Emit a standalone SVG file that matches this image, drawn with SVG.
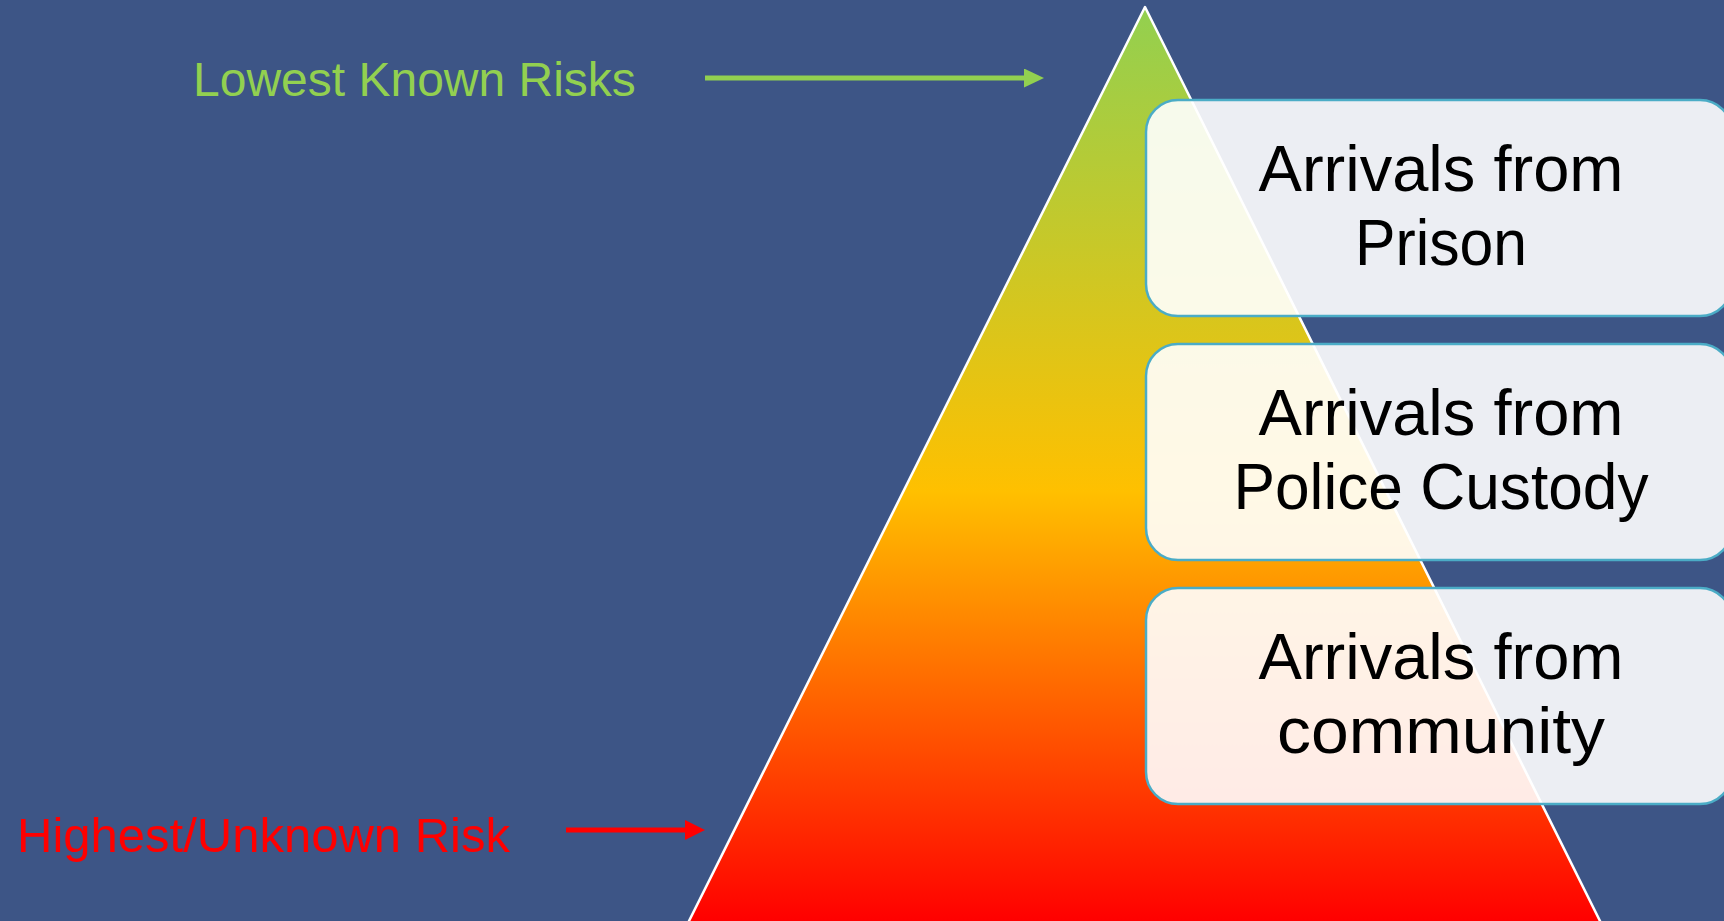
<svg xmlns="http://www.w3.org/2000/svg" width="1724" height="921" viewBox="0 0 1724 921">
  <defs>
    <linearGradient id="riskGrad" x1="0" y1="7" x2="0" y2="921" gradientUnits="userSpaceOnUse">
      <stop offset="0" stop-color="#92D050"/>
      <stop offset="0.53" stop-color="#FFC000"/>
      <stop offset="1" stop-color="#FF0000"/>
    </linearGradient>
    <marker id="headGreen" markerUnits="userSpaceOnUse" markerWidth="20" markerHeight="19" refX="0" refY="9.5" orient="auto">
      <path d="M0,0 L20,9.5 L0,19 z" fill="#92D050"/>
    </marker>
    <marker id="headRed" markerUnits="userSpaceOnUse" markerWidth="20" markerHeight="20" refX="0" refY="10" orient="auto">
      <path d="M0,0 L20,10 L0,20 z" fill="#FF0000"/>
    </marker>
    <style>
      .box { fill: #FFFFFF; fill-opacity: 0.9; stroke: #4BACC6; stroke-width: 2.5; }
      .boxText { font-family: "Liberation Sans", Arial, sans-serif; font-size: 65px; fill: #000000; text-anchor: middle; }
      .label { font-family: "Liberation Sans", Arial, sans-serif; }
    </style>
  </defs>

  <!-- background -->
  <rect x="0" y="0" width="1724" height="921" fill="#3D5586"/>

  <!-- risk pyramid -->
  <g id="pyramid">
    <polygon points="1145,7 1601,923 688,923" fill="url(#riskGrad)" stroke="#FFFFFF" stroke-width="2.5" stroke-linejoin="round"/>
  </g>

  <!-- side labels -->
  <g id="label-lowest">
    <text class="label" x="193" y="96" font-size="48" fill="#92D050">Lowest Known Risks</text>
  </g>
  <g id="label-highest">
    <text class="label" x="17" y="852" font-size="49" fill="#FF0000">Highest/Unknown Risk</text>
  </g>

  <!-- arrows -->
  <g id="connectors">
    <line x1="705" y1="78" x2="1024" y2="78" stroke="#92D050" stroke-width="5" marker-end="url(#headGreen)"/>
    <line x1="566" y1="830" x2="685" y2="830" stroke="#FF0000" stroke-width="5" marker-end="url(#headRed)"/>
  </g>

  <!-- arrival boxes -->
  <g id="box-prison">
    <rect class="box" x="1146" y="100" width="586" height="216" rx="32" ry="32"/>
    <text class="boxText" x="1441" y="191" textLength="365" lengthAdjust="spacingAndGlyphs">Arrivals from</text>
    <text class="boxText" x="1441" y="265" textLength="172" lengthAdjust="spacingAndGlyphs">Prison</text>
  </g>
  <g id="box-police">
    <rect class="box" x="1146" y="344" width="586" height="216" rx="32" ry="32"/>
    <text class="boxText" x="1441" y="435" textLength="365" lengthAdjust="spacingAndGlyphs">Arrivals from</text>
    <text class="boxText" x="1441" y="509" textLength="415" lengthAdjust="spacingAndGlyphs">Police Custody</text>
  </g>
  <g id="box-community">
    <rect class="box" x="1146" y="588" width="586" height="216" rx="32" ry="32"/>
    <text class="boxText" x="1441" y="679" textLength="365" lengthAdjust="spacingAndGlyphs">Arrivals from</text>
    <text class="boxText" x="1441" y="753" textLength="328" lengthAdjust="spacingAndGlyphs">community</text>
  </g>
</svg>
